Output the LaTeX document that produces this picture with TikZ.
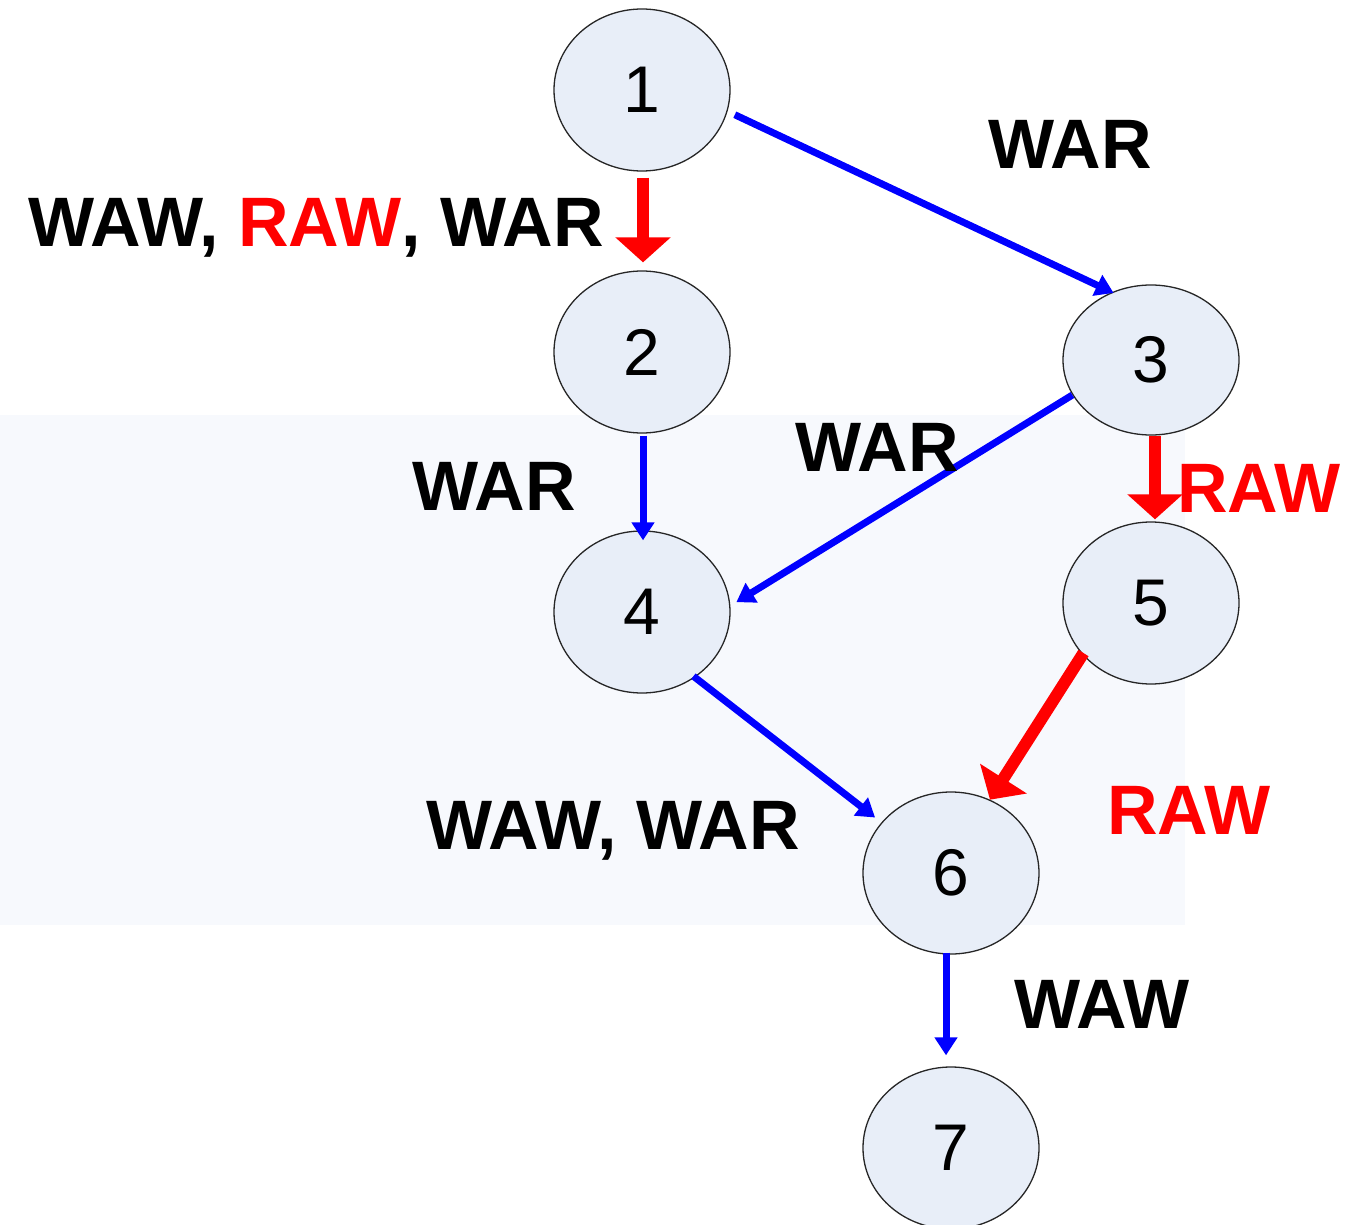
\documentclass[tikz,border=0pt]{standalone}
\usepackage{fontspec}
\setmainfont{Liberation Sans}
\usetikzlibrary{arrows.meta,shapes.geometric}
\definecolor{nodefill}{RGB}{232,238,248}
\definecolor{bgtint}{RGB}{247,249,253}
\definecolor{redarr}{RGB}{255,0,0}
\definecolor{bluearr}{RGB}{0,0,255}
\begin{document}
\begin{tikzpicture}[x=1pt,y=-1pt,
  state/.style={ellipse,draw=black!85,line width=1.3pt,fill=nodefill,
    minimum width=176pt,minimum height=162pt,inner sep=0pt,
    font=\fontsize{66}{70}\selectfont},
  lbl/.style={font=\bfseries\fontsize{70}{74}\selectfont,text depth=0pt,inner sep=0pt},
  redarrow/.style={draw=redarr,line width=12pt,
    -{Triangle[width=54pt,length=25pt]}},
  bluearrow/.style={draw=bluearr,line width=7pt,
    -{Triangle[width=22pt,length=18pt]}}]
\useasboundingbox (0,0) rectangle (1353,1225);
\clip (0,0) rectangle (1353,1225);
\fill[white] (0,0) rectangle (1353,1225);
\fill[bgtint] (0,415) rectangle (1185,925);
% nodes
\node[state] (n1) at (642,90) {1};
\node[state] (n2) at (642,352) {2};
\node[state,minimum height=150pt] (n3) at (1151,360) {3};
\node[state] (n4) at (642,612) {4};
\node[state] (n5) at (1151,603) {5};
\node[state] (n6) at (951,873) {6};
\node[state] (n7) at (951,1148) {7};
% connectors
\draw[redarrow,shorten <=6pt,shorten >=8pt] ([xshift=1pt]n1.south) -- ([xshift=1pt]n2.north);
\draw[bluearrow,shorten <=8pt,shorten >=-2pt] (n1.-14) -- (n3.120);
\draw[bluearrow,shorten <=2pt,shorten >=-10pt] ([xshift=1pt]n2.south) -- ([xshift=1pt]n4.north);
\draw[bluearrow,shorten <=0pt,shorten >=7pt] (n3.204) -- (n4.4);
\draw[redarrow,shorten <=0pt,shorten >=2pt] ([xshift=4pt]n3.south) -- ([xshift=4pt]n5.north);
\draw[bluearrow,shorten <=-2pt,shorten >=8pt] (n4.-51) -- (n6.144);
\draw[redarrow,shorten <=-2pt,shorten >=0pt] (n5.217) -- (n6.62);
\draw[bluearrow,shorten <=-2pt,shorten >=11pt] ([xshift=-5pt]n6.south) -- ([xshift=-5pt]n7.north);
% labels
\node[lbl] (l13) at (1070,144) {WAR};
\node[lbl] (l12) at (316,222) {WAW, \textcolor{redarr}{RAW}, WAR};
\node[lbl] (l24) at (494,486) {WAR};
\node[lbl] (l34) at (877,447) {WAR};
\node[lbl,text=redarr] (l35) at (1259,488) {RAW};
\node[lbl,text=redarr] (l56) at (1189,810) {RAW};
\node[lbl] (l46) at (613,825) {WAW, WAR};
\node[lbl] (l67) at (1102,1004) {WAW};
\end{tikzpicture}
\end{document}
